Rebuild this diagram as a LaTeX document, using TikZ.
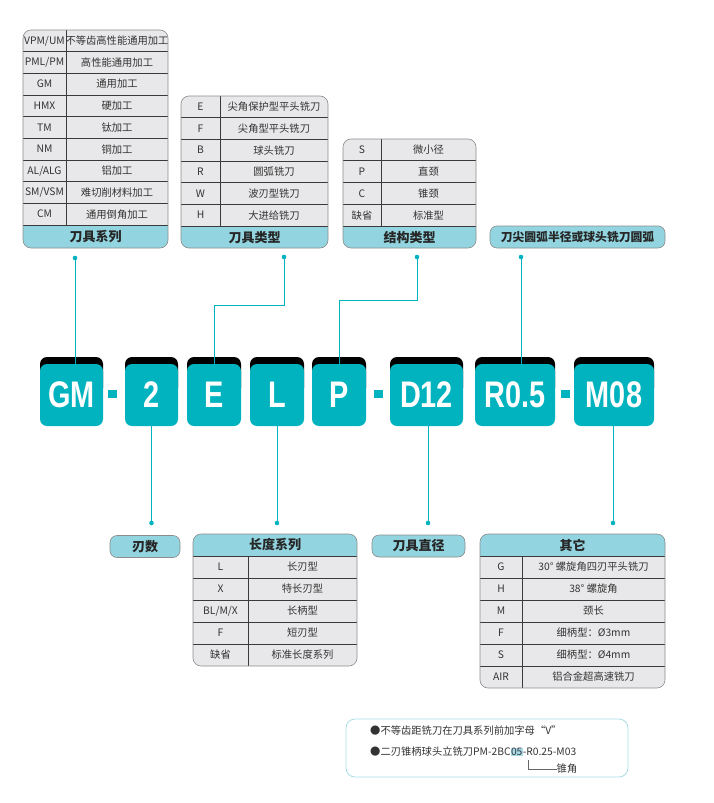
\documentclass[tikz,border=0pt]{standalone}
\usepackage{fontspec}
\setmainfont{Noto Sans CJK SC}
\newfontfamily\codefont[FakeStretch=0.78]{Liberation Sans}
\definecolor{tealc}{HTML}{00B3BE}
\definecolor{hdr}{HTML}{92D5E0}
\definecolor{rowbg}{HTML}{E8E8EA}
\definecolor{linec}{HTML}{3A3A3A}
\definecolor{notec}{HTML}{A8DCE8}
\definecolor{hl}{HTML}{A9DDEB}
\tikzset{
  cell/.style={font=\fontsize{10.3}{11}\selectfont, text=black!80, inner sep=0},
  hdrtext/.style={font=\fontsize{13}{14}\selectfont\bfseries, text=black!85, inner sep=0},
  codebox/.style={fill=tealc, rounded corners=7, text=white, inner sep=0,
    minimum height=62, font=\codefont\fontsize{37}{38}\selectfont\bfseries},
  conn/.style={draw=tealc, line width=0.9},
  sep/.style={draw=linec, line width=0.8},
  lab/.style={fill=hdr, draw=black!45, line width=0.6, rounded corners=7, minimum height=22, inner sep=0, font=\fontsize{13}{14}\selectfont\bfseries, text=black!85},
}
\begin{document}
\begin{tikzpicture}[x=1pt,y=-1pt]
\useasboundingbox (0,0) rectangle (713,803);
% ---------- table 1 ----------
\def\rh{21.67}
\fill[rowbg, rounded corners=8] (23,30) rectangle (168,248);
\fill[hdr, rounded corners=8] (23,225) rectangle (168,248);
\fill[hdr] (23,225) rectangle (168,236);
\foreach \a/\b [count=\i from 0] in {{VPM/UM}/不等齿高性能通用加工,{PML/PM}/高性能通用加工,GM/通用加工,HMX/硬加工,TM/钛加工,NM/铜加工,{AL/ALG}/铝加工,{SM/VSM}/难切削材料加工,CM/通用倒角加工}{
  \node[cell] (ta\i) at (44.5,30+\rh*\i+\rh/2) {\a};
  \node[cell] (tb\i) at (117,30+\rh*\i+\rh/2) {\b};
  \draw[sep] (23,30+\rh*\i+\rh) -- (168,30+\rh*\i+\rh);
}
\draw[sep] (66,30) -- (66,225);
\draw[draw=black!45, line width=0.6, rounded corners=8] (23,30) rectangle (168,248);
\node[hdrtext] (h1) at (95.5,237) {刀具系列};
% ---------- table 2 ----------
\fill[rowbg, rounded corners=8] (181,96) rectangle (328,248);
\fill[hdr, rounded corners=8] (181,226) rectangle (328,248);
\fill[hdr] (181,226) rectangle (328,236);
\foreach \a/\b [count=\i from 0] in {E/尖角保护型平头铣刀,F/尖角型平头铣刀,B/球头铣刀,R/圆弧铣刀,W/波刃型铣刀,H/大进给铣刀}{
  \node[cell] (sa\i) at (200.5,96+21.67*\i+10.8) {\a};
  \node[cell] (sb\i) at (274,96+21.67*\i+10.8) {\b};
  \draw[sep] (181,96+21.67*\i+21.67) -- (328,96+21.67*\i+21.67);
}
\draw[sep] (220,96) -- (220,226);
\draw[draw=black!45, line width=0.6, rounded corners=8] (181,96) rectangle (328,248);
\node[hdrtext] (h2) at (254.5,238) {刀具类型};
% ---------- table 3 ----------
\fill[rowbg, rounded corners=8] (343,139) rectangle (476,248);
\fill[hdr, rounded corners=8] (343,226) rectangle (476,248);
\fill[hdr] (343,226) rectangle (476,236);
\foreach \a/\b [count=\i from 0] in {S/微小径,P/直颈,C/锥颈,缺省/标准型}{
  \node[cell] (ra\i) at (362,139+21.75*\i+10.9) {\a};
  \node[cell] (rb\i) at (428.5,139+21.75*\i+10.9) {\b};
  \draw[sep] (343,139+21.75*\i+21.75) -- (476,139+21.75*\i+21.75);
}
\draw[sep] (381,139) -- (381,226);
\draw[draw=black!45, line width=0.6, rounded corners=8] (343,139) rectangle (476,248);
\node[hdrtext] (h3) at (409.5,238) {结构类型};
\node[lab, minimum width=175, font=\fontsize{11.8}{13}\selectfont\bfseries] (h4) at (577.5,237) {刀尖圆弧半径或球头铣刀圆弧};
% ---------- code boxes ----------
\foreach \n/\x/\w in {gm/71.5/63, two/151.5/53, e/214/54, l/277/54, p/339/54, d/426.5/73, r/515/80, m/614/80}{
  \fill[black, rounded corners=7] (\x-\w/2,357) rectangle (\x+\w/2,395);
}
\node[codebox, minimum width=63] (gm) at (71.5,395) {GM};
\node[codebox, minimum width=53] (two) at (151.5,395) {2};
\node[codebox, minimum width=54] (e) at (214,395) {E};
\node[codebox, minimum width=54] (l) at (277,395) {L};
\node[codebox, minimum width=54] (p) at (339,395) {P};
\node[codebox, minimum width=73] (d) at (426.5,395) {D12};
\node[codebox, minimum width=80] (r) at (515,395) {R0.5};
\node[codebox, minimum width=80] (m) at (614,395) {M08};
\fill[tealc] (108,390) rectangle (117,398);
\fill[tealc] (374,390) rectangle (383,398);
\fill[tealc] (561,390) rectangle (570,398);
% ---------- top connectors ----------
\coordinate (c1) at (75,258);
\coordinate (c2) at (284,257);
\coordinate (c3) at (417,257);
\coordinate (c4) at (521,257);
\draw[conn] (c1) -- (c1 |- gm.north);
\draw[conn] (c2) |- (214,305) -- (e.north);
\draw[conn] (c3) |- (339,300) -- (p.north);
\draw[conn] (c4) -- (c4 |- r.north);
\foreach \c in {c1,c2,c3,c4} \fill[tealc] (\c) circle (2.3);
% ---------- bottom connectors ----------
\coordinate (e1) at (151.5,523);
\coordinate (e2) at (277,523);
\coordinate (e3) at (428,523);
\coordinate (e4) at (613,523);
\draw[conn] (two.south) -- (e1);
\draw[conn] (l.south) -- (e2);
\draw[conn] (e3 |- d.south) -- (e3);
\draw[conn] (e4 |- m.south) -- (e4);
\foreach \c in {e1,e2,e3,e4} \fill[tealc] (\c) circle (2.3);
\node[lab, minimum width=70] (b1) at (145,546.5) {刃数};
\node[lab, minimum width=93] (b3) at (418.5,546) {刀具直径};
% ---------- table 4 ----------
\fill[rowbg, rounded corners=8] (193,534) rectangle (357,666);
\fill[hdr, rounded corners=8] (193,534) rectangle (357,556);
\fill[hdr] (193,546) rectangle (357,556);
\foreach \a/\b [count=\i from 0] in {L/长刃型,X/特长刃型,{BL/M/X}/长柄型,F/短刃型,缺省/标准长度系列}{
  \node[cell] (qa\i) at (220.5,556+22*\i+11) {\a};
  \node[cell] (qb\i) at (302.5,556+22*\i+11) {\b};
  \ifnum\i<4 \draw[sep] (193,556+22*\i+22) -- (357,556+22*\i+22); \fi
}
\draw[sep] (193,556) -- (357,556);
\draw[sep] (248,556) -- (248,666);
\draw[draw=black!45, line width=0.6, rounded corners=8] (193,534) rectangle (357,666);
\node[hdrtext] (h5) at (275,545) {长度系列};
% ---------- table 5 ----------
\fill[rowbg, rounded corners=8] (480,534) rectangle (665,688);
\fill[hdr, rounded corners=8] (480,534) rectangle (665,556);
\fill[hdr] (480,546) rectangle (665,556);
\foreach \a/\b [count=\i from 0] in {G/30°\ 螺旋角四刃平头铣刀,H/38°\ 螺旋角,M/颈长,F/细柄型：Ø3mm,S/细柄型：Ø4mm,AIR/铝合金超高速铣刀}{
  \node[cell] (pa\i) at (501,556+22*\i+11) {\a};
  \node[cell] (pb\i) at (593.5,556+22*\i+11) {\b};
  \ifnum\i<5 \draw[sep] (480,556+22*\i+22) -- (665,556+22*\i+22); \fi
}
\draw[sep] (480,556) -- (665,556);
\draw[sep] (522,556) -- (522,688);
\draw[draw=black!45, line width=0.6, rounded corners=8] (480,534) rectangle (665,688);
\node[hdrtext] (h6) at (572.5,545) {其它};
% ---------- note ----------
\draw[notec, line width=0.8, rounded corners=9] (346,719) rectangle (628,777);
\setlength\fboxsep{0.3pt}
\node[cell, anchor=west] (n1) at (370,731) {●不等齿距铣刀在刀具系列前加字母“V”};
\node[cell, anchor=west] (n2) at (370,752) {●二刃锥柄球头立铣刀PM-2BC\colorbox{hl}{05}-R0.25-M03};
\node[cell] (n3) at (567,769) {锥角};
\coordinate (k1) at (528,760);
\draw[black!60, line width=0.5] (k1) |- (n3.west);
\end{tikzpicture}
\end{document}
